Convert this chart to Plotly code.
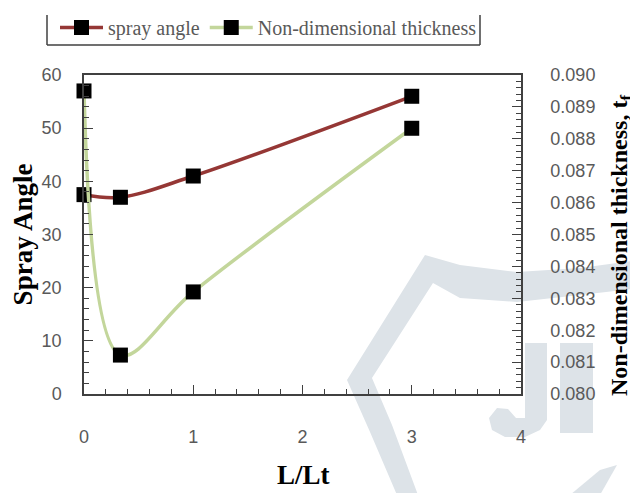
import plotly.graph_objects as go

x_vals = [0, 1/3, 1, 3]
spray_angle = [37.5, 37.0, 41.0, 56.0]
thickness = [0.0895, 0.08122, 0.0832, 0.08833]

# The page body adds an 8px offset; all reference coordinates below are page pixels.
OFF = 8
W, H = 638 - OFF, 493 - OFF
L, R, T, B = 84, 521, 75, 394          # plot area in page pixels
pw, ph = R - L, B - T

def px(xp):
    return (xp - L) / pw

def py(yp):
    return (B - yp) / ph

def path(points):
    return "M " + " L ".join(f"{px(a):.4f},{py(b):.4f}" for a, b in points) + " Z"

gray = "#595959"
wm = "#dde3e8"
fig = go.Figure()
fig.add_trace(go.Scatter(
    x=x_vals, y=spray_angle, name="spray angle", mode="lines+markers", cliponaxis=False,
    line=dict(color="#953735", width=3.5, shape="spline", smoothing=1.0),
    marker=dict(symbol="square", size=15, color="black"),
))
fig.add_trace(go.Scatter(
    x=x_vals, y=thickness, name="Non-dimensional thickness", mode="lines+markers",
    yaxis="y2", cliponaxis=False,
    line=dict(color="#c3d69b", width=3.5, shape="spline", smoothing=1.0),
    marker=dict(symbol="square", size=15, color="black"),
))

# watermark (background decoration)
wm_shapes = [
    [(425, 255), (460, 265), (517, 272), (580, 268), (640, 260), (640, 288), (580, 295), (517, 302),
     (460, 298), (433, 283), (372, 378), (392, 425), (418, 495), (397, 495), (370, 432), (347, 380)],
    [(525, 343), (547, 343), (547, 420), (540, 430), (525, 437), (505, 437), (492, 430), (489, 418),
     (497, 408), (508, 409), (516, 418), (525, 418)],
    [(560, 343), (593, 343), (593, 433), (560, 433)],
    [(570, 495), (600, 470), (617, 465), (600, 495)],
]
shapes = [dict(type="path", xref="paper", yref="paper", path=path(p), fillcolor=wm,
               line=dict(width=0), layer="below") for p in wm_shapes]
# legend frame (top edge lies outside the picture)
for (xa, ya, xb, yb) in [(47, 15, 47, 45), (480, 15, 480, 45), (47, 45, 480, 45)]:
    shapes.append(dict(type="line", xref="paper", yref="paper",
                       x0=px(xa), y0=py(ya), x1=px(xb), y1=py(yb),
                       line=dict(color="#404040", width=1.5)))

tickfont = dict(family="Liberation Sans", size=18, color=gray)
title_font = dict(family="Liberation Serif", color="black", weight="bold")
fig.update_layout(
    width=W, height=H,
    margin=dict(l=L - OFF, r=W - (R - OFF), t=T - OFF, b=H - (B - OFF), autoexpand=False),
    paper_bgcolor="white", plot_bgcolor="rgba(0,0,0,0)",
    showlegend=True,
    legend=dict(orientation="h", x=px(55), y=py(8), xanchor="left", yanchor="top",
                font=dict(family="Liberation Serif", size=20, color=gray),
                bgcolor="rgba(0,0,0,0)", itemwidth=43, tracegroupgap=0),
    xaxis=dict(range=[0, 4], dtick=1, showgrid=False, zeroline=False, automargin=False,
               showline=True, linecolor="#404040", linewidth=1.5, mirror=True,
               ticks="inside", ticklen=9, tickcolor="#404040",
               minor=dict(dtick=0.2, ticks="inside", ticklen=5, tickcolor="#404040"),
               tickfont=tickfont, ticklabelstandoff=26),
    yaxis=dict(range=[0, 60], dtick=10, showgrid=False, zeroline=False, automargin=False,
               showline=True, linecolor="#404040", linewidth=1.5,
               ticks="inside", ticklen=9, tickcolor="#404040",
               minor=dict(dtick=2, ticks="inside", ticklen=5, tickcolor="#404040"),
               tickfont=tickfont, ticklabelstandoff=17,
               title=dict(text="Spray Angle", font=dict(size=27, **title_font), standoff=6)),
    yaxis2=dict(range=[0.080, 0.090], dtick=0.001, tickformat=".3f", overlaying="y", side="right",
                showgrid=False, zeroline=False, automargin=False,
                showline=True, linecolor="#404040", linewidth=1.5,
                ticks="inside", ticklen=9, tickcolor="#404040",
                minor=dict(dtick=0.0002, ticks="inside", ticklen=5, tickcolor="#404040"),
                tickfont=tickfont, ticklabelstandoff=24),
    annotations=[
        dict(text="Non-dimensional thickness, t<sub>f</sub>", textangle=-90,
             xref="paper", yref="paper", x=px(621), y=py(246),
             xanchor="center", yanchor="middle", showarrow=False,
             font=dict(size=24, **title_font)),
        dict(text="L/Lt", xref="paper", yref="paper", x=px(303), y=py(492),
             xanchor="center", yanchor="bottom", showarrow=False,
             font=dict(size=27, **title_font)),
    ],
    shapes=shapes,
)
fig.write_html("out.html")
